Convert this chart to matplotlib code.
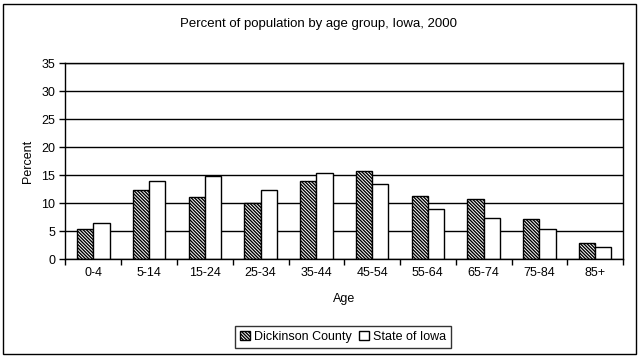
import matplotlib
matplotlib.use("Agg")
import matplotlib.pyplot as plt
import numpy as np
from matplotlib.patches import Rectangle

ages = ["0-4", "5-14", "15-24", "25-34", "35-44", "45-54", "55-64", "65-74", "75-84", "85+"]
dickinson = [5.4, 12.4, 11.0, 10.0, 14.0, 15.7, 11.3, 10.8, 7.2, 2.8]
iowa = [6.4, 14.0, 14.8, 12.4, 15.3, 13.4, 9.0, 7.4, 5.4, 2.1]
yticks = [0, 5, 10, 15, 20, 25, 30, 35]


def main():
    plt.rcParams['font.family'] = ['Liberation Sans', 'DejaVu Sans']
    plt.rcParams['hatch.linewidth'] = 1.0
    fs = 9
    fig = plt.figure(figsize=(6.39, 3.58), dpi=100)
    ax = fig.add_axes([0.1025, 0.2765, 0.8725, 0.5475])

    x = np.arange(len(ages))
    w = 0.29
    ax.set_axisbelow(True)
    ax.bar(x - w/2, dickinson, w, color='white', edgecolor='black', hatch='\\' * 10,
           linewidth=1, label='Dickinson County')
    ax.bar(x + w/2, iowa, w, color='white', edgecolor='black',
           linewidth=1, label='State of Iowa')

    ax.set_xlim(-0.5, len(ages) - 0.5)
    ax.set_ylim(0, 35)
    ax.set_yticks(yticks)
    ax.yaxis.grid(True, color='black', linewidth=1)
    ax.set_xticks(x)
    ax.set_xticklabels(ages, fontsize=fs)
    ax.set_xticks(np.arange(-0.5, len(ages)), minor=True)
    ax.tick_params(axis='x', which='major', length=0, pad=6)
    ax.tick_params(axis='x', which='minor', length=4, width=1, direction='out')
    ax.tick_params(axis='y', length=4, width=1, labelsize=fs)
    for s in ax.spines.values():
        s.set_linewidth(1)
    ax.set_xlabel("Age", fontsize=fs, labelpad=10)
    ax.set_ylabel("Percent", fontsize=fs, labelpad=5)

    fig.text(0.498, 0.933, "Percent of population by age group, Iowa, 2000",
             ha='center', va='center', fontsize=9.5)

    leg = fig.legend(loc='center', bbox_to_anchor=(0.537, 0.059), ncol=2,
                     fontsize=fs, frameon=True, fancybox=False, edgecolor='black',
                     handlelength=0.8, handleheight=0.8, handletextpad=0.3,
                     columnspacing=0.6, borderpad=0.4, borderaxespad=0)
    leg.get_frame().set_linewidth(1)

    fig.patches.append(Rectangle((0.005, 0.01), 0.99, 0.978, transform=fig.transFigure,
                                 fill=False, edgecolor='black', linewidth=1))
    fig.savefig("out.png", dpi=100)


if __name__ == '__main__':
    main()
